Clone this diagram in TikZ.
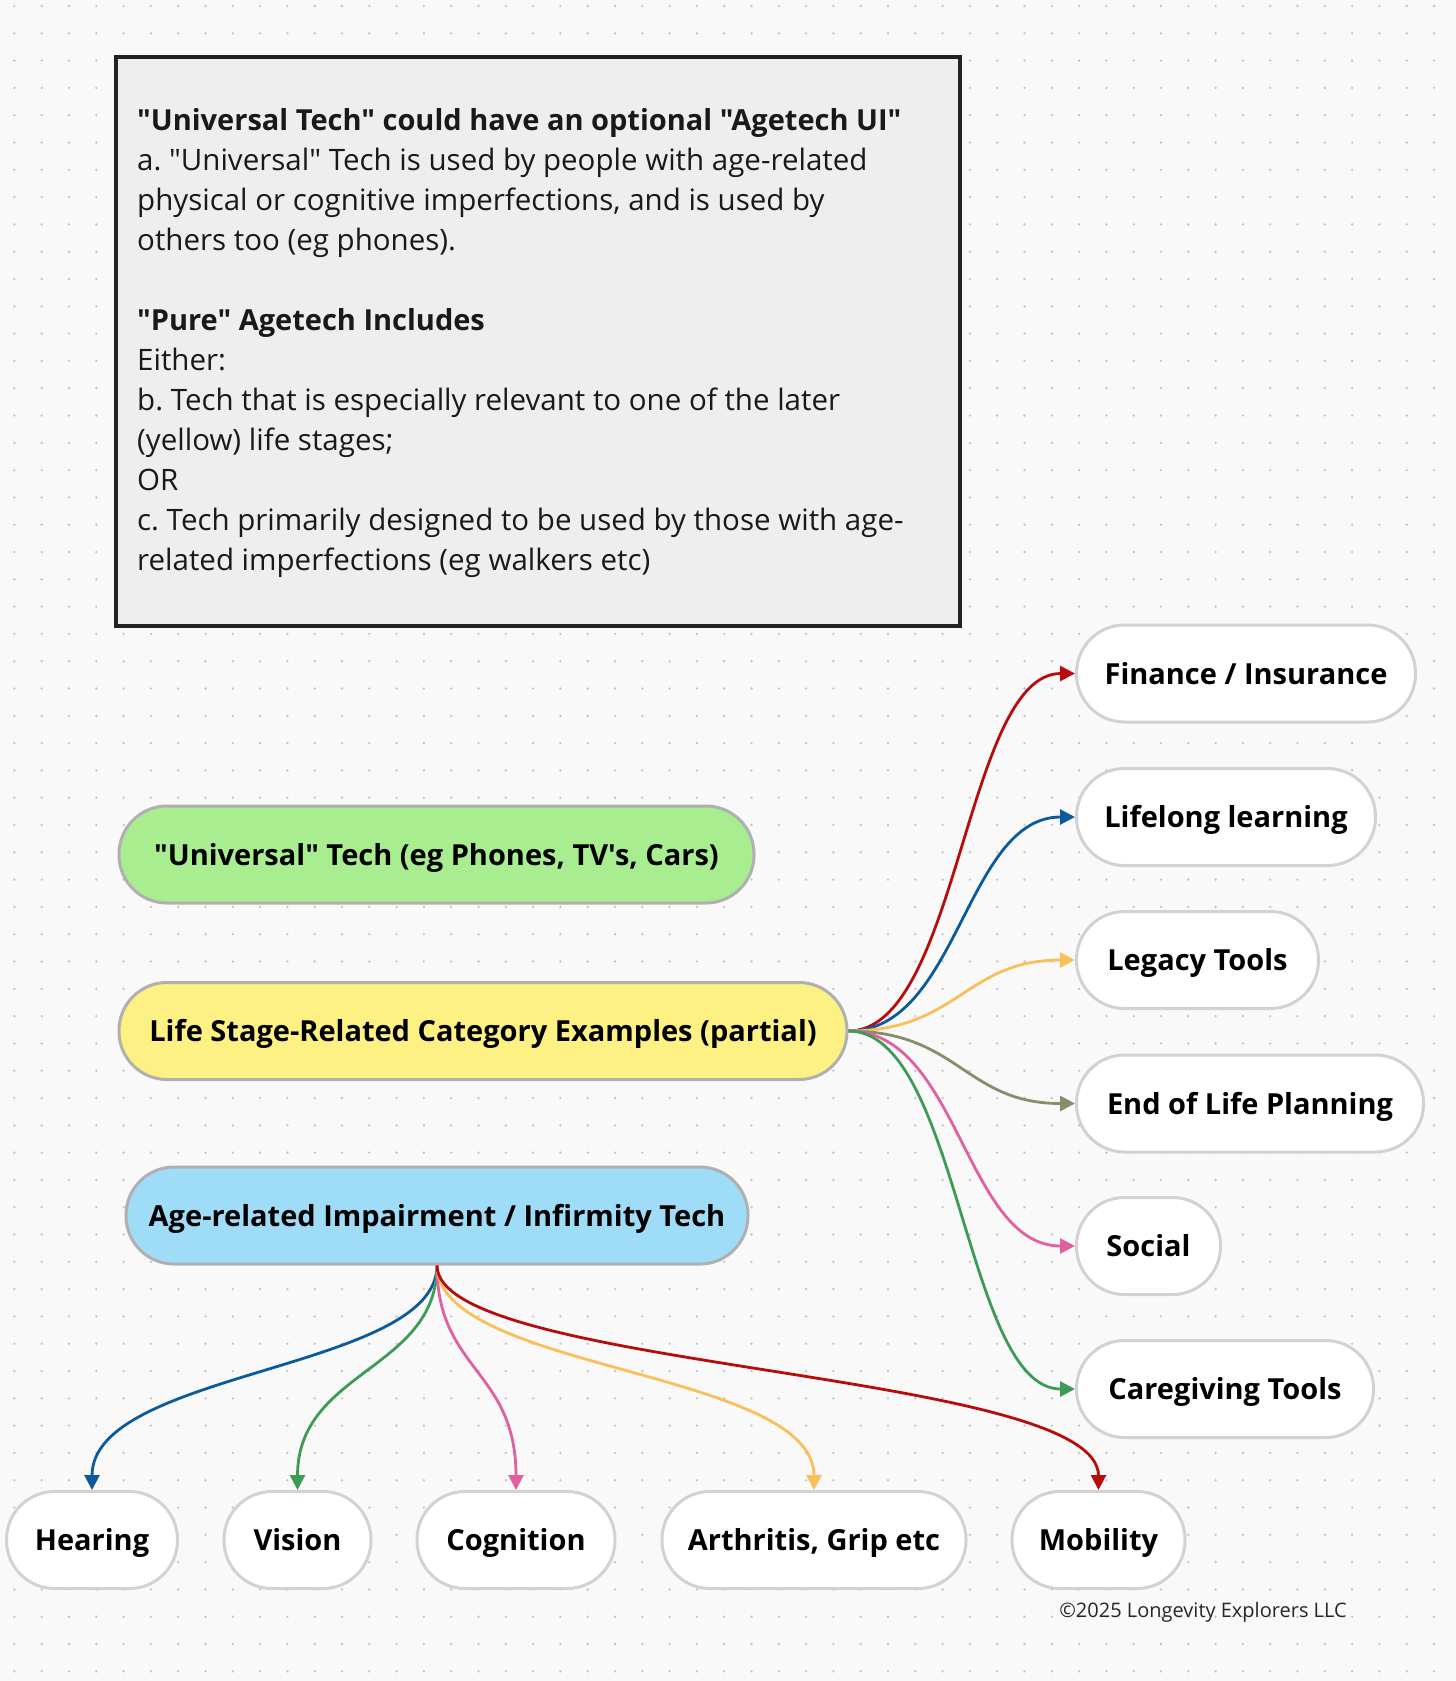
\documentclass[tikz,border=0pt]{standalone}
\usepackage{fontspec}
\setmainfont{Open Sans}[Ligatures=TeXOff]
\frenchspacing
\usetikzlibrary{arrows.meta}
\definecolor{bgc}{HTML}{F9F9F9}
\definecolor{dotc}{HTML}{C4C4C4}
\definecolor{boxfill}{HTML}{EEEEEE}
\definecolor{boxline}{HTML}{222222}
\definecolor{gfill}{HTML}{A8EE90}
\definecolor{yfill}{HTML}{FDF183}
\definecolor{bfill}{HTML}{9FDCF8}
\definecolor{pillline}{HTML}{B0B0B0}
\definecolor{wline}{HTML}{D2D2D2}
\definecolor{cred}{HTML}{B80C0C}
\definecolor{cblue}{HTML}{0B5A9C}
\definecolor{cyel}{HTML}{FBBF5A}
\definecolor{colive}{HTML}{8A8C6C}
\definecolor{cpink}{HTML}{E060A0}
\definecolor{cgreen}{HTML}{3D9A57}
\begin{document}
\begin{tikzpicture}[x=1pt,y=-1pt,
  pilltext/.style={font=\fontsize{29}{32}\selectfont\bfseries, text=black, inner sep=0pt, text height=25pt, text depth=4pt},
  pill/.style={pilltext, draw=pillline, line width=3pt, rounded corners=48pt, minimum height=97pt},
  wpill/.style={pilltext, draw=wline, line width=3pt, fill=white, rounded corners=48pt, minimum height=97pt},
  conn/.style={line width=2.8pt, -{Triangle[length=15pt,width=15pt]}}]
\fill[bgc] (0,0) rectangle (1456,1681);
\useasboundingbox (0,0) rectangle (1456,1681);
\foreach \i in {0,...,52}{\foreach \j in {0,...,61}{\fill[dotc] (14.4+27.3*\i,6+27.3*\j) circle (1.3);}}
% text box
\node[draw=boxline, line width=4pt, fill=boxfill, minimum width=844pt, minimum height=569pt, anchor=north west, inner sep=0pt] (box) at (113.6,54.7) {};
\node[anchor=north west, align=left, inner sep=0pt, font=\fontsize{29.5}{40}\selectfont, text=black!90] (boxtext) at (137,108)
{\textbf{\fontsize{29}{40}\selectfont"Universal Tech" could have an optional "Agetech UI"}\\
a. "Universal" Tech is used by people with age-related\\
physical or cognitive imperfections, and is used by\\
others too (eg phones).\\[40pt]
\textbf{\fontsize{29}{40}\selectfont"Pure" Agetech Includes}\\
Either:\\
b. Tech that is especially relevant to one of the later\\
(yellow) life stages;\\
OR\\
c. Tech primarily designed to be used by those with age-\\
related imperfections (eg walkers etc)};
% main pills
\node[pill, fill=gfill, minimum width=635pt] (univ) at (436.5,854.5) {"Universal" Tech (eg Phones, TV's, Cars)};
\node[pill, fill=yfill, minimum width=728pt] (life) at (483,1031) {Life Stage-Related Category Examples (partial)};
\node[pill, fill=bfill, minimum width=622pt] (age) at (437,1215.5) {Age-related Impairment / Infirmity Tech};
% right nodes
\node[wpill, anchor=west, minimum width=339pt] (fin) at (1075,673.5) {Finance / Insurance};
\node[wpill, anchor=west, minimum width=299pt] (learn) at (1075,817) {Lifelong learning};
\node[wpill, anchor=west, minimum width=242pt] (legacy) at (1075,960) {Legacy Tools};
\node[wpill, anchor=west, minimum width=347pt] (eol) at (1075,1103.5) {End of Life Planning};
\node[wpill, anchor=west, minimum width=144pt] (social) at (1075,1246) {Social};
\node[wpill, anchor=west, minimum width=297pt] (care) at (1075,1389) {Caregiving Tools};
% bottom nodes
\node[wpill, minimum width=171pt] (hear) at (92,1540) {Hearing};
\node[wpill, minimum width=147pt] (vis) at (297.5,1540) {Vision};
\node[wpill, minimum width=198pt] (cog) at (516,1540) {Cognition};
\node[wpill, minimum width=304pt] (arth) at (814,1540) {Arthritis, Grip etc};
\node[wpill, minimum width=173pt] (mob) at (1098.5,1540) {Mobility};
% copyright
\node[font=\fontsize{20}{24}\selectfont, text=black!85, inner sep=0pt] (copy) at (1203,1612) {©2025 Longevity Explorers LLC};
% right connectors
\coordinate (ls) at (life.east);
\draw[conn, cred] (ls) .. controls +(110,0) and +(-110,0) .. (fin.west);
\draw[conn, cblue] (ls) .. controls +(110,0) and +(-110,0) .. (learn.west);
\draw[conn, cyel] (ls) .. controls +(110,0) and +(-110,0) .. (legacy.west);
\draw[conn, colive] (ls) .. controls +(110,0) and +(-110,0) .. (eol.west);
\draw[conn, cpink] (ls) .. controls +(110,0) and +(-110,0) .. (social.west);
\draw[conn, cgreen] (ls) .. controls +(110,0) and +(-110,0) .. (care.west);
% bottom connectors
\coordinate (as) at (age.south);
\draw[conn, cblue] (as) .. controls +(0,105) and +(0,-120) .. (hear.north);
\draw[conn, cgreen] (as) .. controls +(0,105) and +(0,-120) .. (vis.north);
\draw[conn, cpink] (as) .. controls +(0,105) and +(0,-120) .. (cog.north);
\draw[conn, cyel] (as) .. controls +(0,105) and +(0,-120) .. (arth.north);
\draw[conn, cred] (as) .. controls +(0,105) and +(0,-120) .. (mob.north);
\end{tikzpicture}
\end{document}
